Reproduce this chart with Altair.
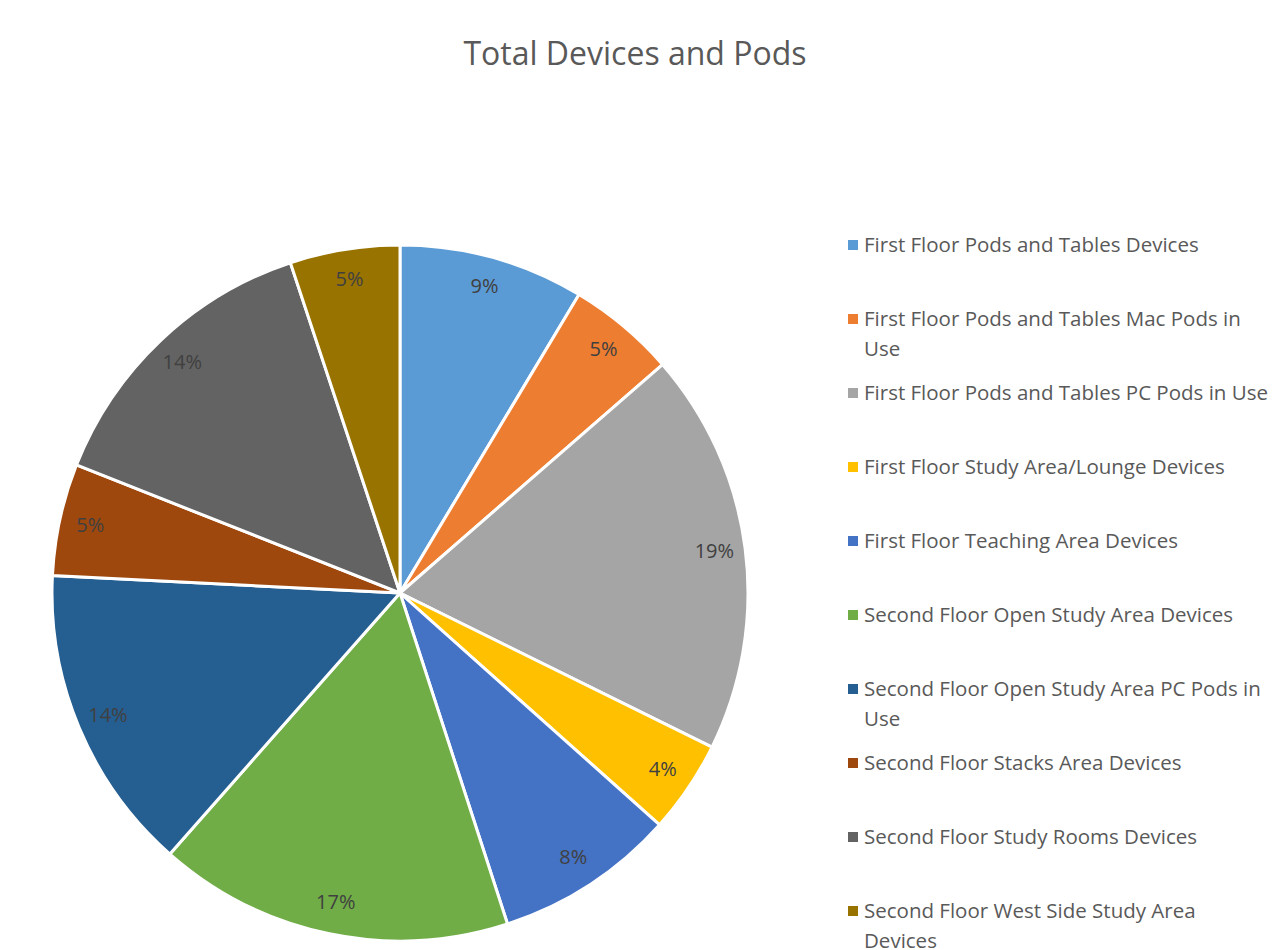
import altair as alt
import pandas as pd

categories = [
    "First Floor Pods and Tables Devices",
    "First Floor Pods and Tables Mac Pods in Use",
    "First Floor Pods and Tables PC Pods in Use",
    "First Floor Study Area/Lounge Devices",
    "First Floor Teaching Area Devices",
    "Second Floor Open Study Area Devices",
    "Second Floor Open Study Area PC Pods in Use",
    "Second Floor Stacks Area Devices",
    "Second Floor Study Rooms Devices",
    "Second Floor West Side Study Area Devices",
]
legend_lines = [
    ["First Floor Pods and Tables Devices"],
    ["First Floor Pods and Tables Mac Pods in", "Use"],
    ["First Floor Pods and Tables PC Pods in Use"],
    ["First Floor Study Area/Lounge Devices"],
    ["First Floor Teaching Area Devices"],
    ["Second Floor Open Study Area Devices"],
    ["Second Floor Open Study Area PC Pods in", "Use"],
    ["Second Floor Stacks Area Devices"],
    ["Second Floor Study Rooms Devices"],
    ["Second Floor West Side Study Area", "Devices"],
]
values = [8.6, 5.0, 18.7, 4.3, 8.4, 16.5, 14.3, 5.2, 13.9, 5.1]
pct_labels = ["9%", "5%", "19%", "4%", "8%", "17%", "14%", "5%", "14%", "5%"]
colors = ["#5B9BD5", "#ED7D31", "#A5A5A5", "#FFC000", "#4472C4",
          "#70AD47", "#255E91", "#9E480E", "#636363", "#997300"]

df = pd.DataFrame({
    "category": categories,
    "value": values,
    "label": pct_labels,
    "idx": list(range(len(categories))),
    "lines": legend_lines,
})

FONT = "Open Sans"
color_scale = alt.Scale(domain=categories, range=colors)

base = alt.Chart(df).encode(
    theta=alt.Theta("value:Q", stack=True),
    order=alt.Order("idx:Q"),
)
arcs = base.mark_arc(outerRadius=348, stroke="white", strokeWidth=3).encode(
    color=alt.Color("category:N", scale=color_scale, legend=None)
)
texts = base.mark_text(radius=317, font=FONT, fontSize=20, color="#404040").encode(
    text="label:N"
)
pie = (arcs + texts).properties(width=696, height=696)

leg_base = alt.Chart(df).encode(
    y=alt.Y("idx:Q", scale=alt.Scale(domain=[0, 696 / 74], zero=False, nice=False, reverse=True), axis=None)
)
squares = leg_base.mark_square(size=100, opacity=1).encode(
    x=alt.value(0),
    color=alt.Color("category:N", scale=color_scale, legend=None),
)
leg_text = leg_base.mark_text(
    align="left", baseline="alphabetic", dy=7, font=FONT, fontSize=20.5,
    color="#595959", lineHeight=30
).encode(
    x=alt.value(11),
    text="lines",
)
legend = (squares + leg_text).properties(width=368, height=696)

chart = alt.hconcat(pie, legend, spacing=94).properties(
    title=alt.TitleParams("Total Devices and Pods", fontSize=32, font=FONT,
                          color="#595959", fontWeight="normal", anchor="middle",
                          offset=164, dx=-22),
    padding={"left": 38, "top": 31, "right": 0, "bottom": 0},
).configure_view(stroke=None)

chart.save("out.html", embed_options={"renderer": "svg", "actions": False})
